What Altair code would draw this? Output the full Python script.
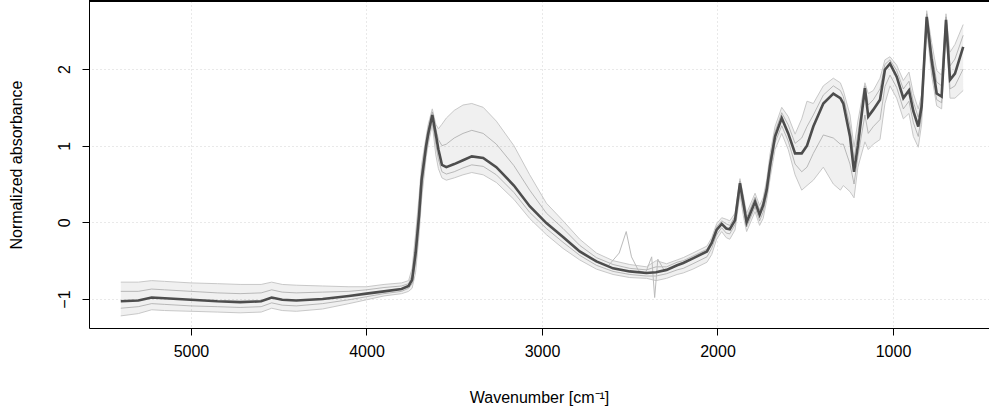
import altair as alt
import pandas as pd

# Wavenumber grid (cm^-1)
wn = [5400, 5300, 5224, 5150, 5000, 4850, 4720, 4600, 4540, 4480,
      4400, 4250, 4100, 4000, 3900, 3800, 3760, 3740, 3720, 3700,
      3686, 3660, 3648, 3625, 3605, 3590, 3570, 3545, 3500, 3450,
      3400, 3335, 3260, 3160, 3070, 2975, 2880, 2785, 2690, 2595,
      2500, 2405, 2350, 2290, 2230, 2195, 2140, 2060, 2033, 2005,
      1976, 1950, 1930, 1900, 1872, 1850, 1834, 1786, 1760, 1740,
      1720, 1700, 1672, 1634, 1597, 1558, 1520, 1490, 1454, 1397,
      1340, 1300, 1283, 1245, 1222, 1200, 1160, 1141, 1112, 1074,
      1046, 1017, 979, 941, 909, 884, 856, 837, 808, 780,
      751, 723, 698, 675, 647, 600]

# Dense central spectrum (dark core)
center = [-1.03, -1.02, -0.98, -0.99, -1.01, -1.03, -1.04, -1.03, -0.98, -1.01,
          -1.02, -1.00, -0.96, -0.93, -0.90, -0.87, -0.83, -0.75, -0.40, 0.10,
          0.55, 1.00, 1.16, 1.40, 1.15, 0.95, 0.75, 0.72, 0.76, 0.81,
          0.86, 0.84, 0.72, 0.48, 0.21, -0.01, -0.19, -0.38, -0.51, -0.60,
          -0.64, -0.66, -0.65, -0.62, -0.56, -0.53, -0.47, -0.38, -0.27, -0.10,
          -0.02, -0.08, -0.09, 0.03, 0.51, 0.22, 0.00, 0.27, 0.10, 0.22,
          0.42, 0.75, 1.12, 1.36, 1.16, 0.90, 0.90, 1.00, 1.25, 1.55,
          1.68, 1.62, 1.55, 1.12, 0.66, 1.00, 1.75, 1.38, 1.47, 1.60,
          1.99, 2.07, 1.90, 1.62, 1.72, 1.45, 1.25, 1.51, 2.68, 2.12,
          1.68, 1.64, 2.64, 1.86, 1.94, 2.29]

# Spectra between the core and the highest ones
mid_hi = [-0.90, -0.90, -0.87, -0.88, -0.90, -0.92, -0.93, -0.92, -0.88, -0.91,
          -0.92, -0.91, -0.90, -0.88, -0.85, -0.83, -0.80, -0.68, -0.28, 0.22,
          0.65, 1.06, 1.22, 1.44, 1.22, 1.08, 1.00, 1.02, 1.10, 1.16,
          1.20, 1.16, 1.02, 0.74, 0.42, 0.12, -0.08, -0.30, -0.46, -0.55,
          -0.60, -0.62, -0.58, -0.58, -0.52, -0.50, -0.44, -0.35, -0.24, -0.06,
          0.02, -0.02, -0.04, 0.08, 0.54, 0.27, 0.06, 0.33, 0.16, 0.27,
          0.48, 0.82, 1.18, 1.43, 1.27, 1.03, 1.10, 1.25, 1.40, 1.66,
          1.78, 1.72, 1.64, 1.26, 0.82, 1.16, 1.78, 1.53, 1.60, 1.74,
          2.06, 2.12, 1.98, 1.74, 1.84, 1.57, 1.37, 1.58, 2.72, 2.24,
          1.83, 1.78, 2.68, 2.04, 2.13, 2.44]

# Spectra between the core and the lowest ones
mid_lo = [-1.12, -1.10, -1.06, -1.07, -1.09, -1.10, -1.11, -1.10, -1.05, -1.08,
          -1.09, -1.06, -1.01, -0.97, -0.93, -0.90, -0.86, -0.80, -0.52, -0.02,
          0.43, 0.92, 1.09, 1.34, 1.02, 0.82, 0.66, 0.63, 0.66, 0.71,
          0.75, 0.73, 0.62, 0.39, 0.13, -0.08, -0.26, -0.43, -0.56, -0.64,
          -0.68, -0.70, -0.70, -0.67, -0.62, -0.60, -0.54, -0.45, -0.34, -0.16,
          -0.07, -0.14, -0.15, -0.03, 0.44, 0.14, -0.06, 0.20, 0.02, 0.13,
          0.35, 0.66, 1.04, 1.26, 1.06, 0.76, 0.66, 0.72, 0.90, 1.14,
          1.10, 1.02, 1.02, 0.76, 0.50, 0.86, 1.40, 1.16, 1.25, 1.34,
          1.77, 1.92, 1.76, 1.48, 1.58, 1.30, 1.12, 1.40, 2.60, 2.02,
          1.60, 1.56, 2.58, 1.74, 1.78, 2.00]

# Highest spectra (upper envelope)
upper = [-0.78, -0.78, -0.76, -0.77, -0.79, -0.80, -0.81, -0.81, -0.78, -0.81,
         -0.82, -0.83, -0.84, -0.84, -0.81, -0.79, -0.76, -0.60, -0.15, 0.35,
         0.75, 1.12, 1.28, 1.48, 1.28, 1.22, 1.28, 1.36, 1.46, 1.53,
         1.55, 1.50, 1.32, 1.00, 0.62, 0.25, 0.02, -0.22, -0.40, -0.50,
         -0.55, -0.58, -0.50, -0.54, -0.49, -0.46, -0.40, -0.31, -0.20, -0.02,
         0.06, 0.04, 0.02, 0.12, 0.57, 0.32, 0.12, 0.38, 0.22, 0.32,
         0.55, 0.90, 1.25, 1.50, 1.38, 1.15, 1.35, 1.58, 1.55, 1.78,
         1.88, 1.82, 1.72, 1.40, 0.98, 1.32, 1.82, 1.68, 1.72, 1.88,
         2.12, 2.16, 2.05, 1.85, 1.96, 1.68, 1.48, 1.66, 2.76, 2.35,
         1.98, 1.92, 2.72, 2.22, 2.32, 2.58]

# Lowest spectra (lower envelope)
lower = [-1.22, -1.19, -1.14, -1.15, -1.16, -1.17, -1.18, -1.17, -1.12, -1.15,
         -1.16, -1.13, -1.06, -1.01, -0.96, -0.93, -0.90, -0.86, -0.65, -0.15,
         0.30, 0.85, 1.02, 1.28, 0.88, 0.70, 0.58, 0.55, 0.58, 0.62,
         0.65, 0.62, 0.52, 0.30, 0.05, -0.16, -0.34, -0.49, -0.61, -0.68,
         -0.72, -0.73, -0.76, -0.73, -0.68, -0.66, -0.61, -0.52, -0.42, -0.22,
         -0.12, -0.20, -0.22, -0.10, 0.36, 0.05, -0.12, 0.14, -0.04, 0.05,
         0.28, 0.58, 0.95, 1.16, 0.95, 0.62, 0.42, 0.48, 0.55, 0.72,
         0.50, 0.42, 0.48, 0.40, 0.32, 0.72, 1.05, 0.95, 1.02, 1.08,
         1.55, 1.78, 1.62, 1.35, 1.42, 1.12, 0.98, 1.28, 2.52, 1.92,
         1.52, 1.48, 2.52, 1.62, 1.62, 1.72]

# A few spiky spectra near 2500 and 2360 cm^-1
spike_wn = [2620, 2560, 2520, 2490, 2450, 2410, 2375, 2358, 2340, 2300]
spike_val = [-0.56, -0.40, -0.12, -0.45, -0.63, -0.66, -0.45, -0.98, -0.48, -0.64]

assert len(wn) == len(center) == len(upper) == len(lower) == len(mid_hi) == len(mid_lo)

df = pd.DataFrame({"wn": wn, "center": center, "upper": upper, "lower": lower,
                   "mid_hi": mid_hi, "mid_lo": mid_lo})
spikes = pd.DataFrame({"wn": spike_wn, "val": spike_val})

FONT = "Liberation Sans"

xscale = alt.Scale(domain=[453, 5581], reverse=True, nice=False, zero=False)
yscale = alt.Scale(domain=[-1.378, 2.887], nice=False, zero=False)

xaxis = alt.Axis(values=[1000, 2000, 3000, 4000, 5000], format="d",
                 title="Wavenumber [cm⁻¹]", tickSize=7, labelPadding=8,
                 titlePadding=30)
yaxis = alt.Axis(values=[-1, 0, 1, 2], format="d", title="Normalized absorbance",
                 tickSize=7, labelAngle=270, labelAlign="center",
                 labelBaseline="bottom", labelPadding=10, titlePadding=32)

base = alt.Chart(df)

band = base.mark_area(color="#000000", opacity=0.06).encode(
    x=alt.X("wn:Q", scale=xscale, axis=xaxis),
    y=alt.Y("lower:Q", scale=yscale, axis=yaxis),
    y2="upper:Q",
)


def spectrum(field, color, width, opacity=1.0):
    return base.mark_line(color=color, strokeWidth=width, opacity=opacity).encode(
        x=alt.X("wn:Q", scale=xscale), y=alt.Y(f"{field}:Q", scale=yscale))


up_line = spectrum("upper", "#c8c8c8", 1)
lo_line = spectrum("lower", "#c8c8c8", 1)
mh_line = spectrum("mid_hi", "#a0a0a0", 1, 0.7)
ml_line = spectrum("mid_lo", "#a0a0a0", 1, 0.7)
spike_line = alt.Chart(spikes).mark_line(color="#bbbbbb", strokeWidth=1).encode(
    x=alt.X("wn:Q", scale=xscale), y=alt.Y("val:Q", scale=yscale))
core = spectrum("center", "#4d4d4d", 2.6)

top_frame = alt.Chart(df).mark_rule(color="black", strokeWidth=1).encode(
    x=alt.value(0), x2=alt.value(900), y=alt.value(0))

chart = alt.layer(band, up_line, lo_line, mh_line, ml_line, spike_line, core,
                  top_frame).properties(
    width=900, height=327,
    padding={"left": 89, "top": 1, "right": 0, "bottom": 84},
    autosize=alt.AutoSizeParams(type="none"),
).configure_view(stroke=None).configure_axis(
    domainColor="black", tickColor="black", domainWidth=1, tickWidth=1,
    labelFont=FONT, titleFont=FONT, labelFontSize=16, titleFontSize=16,
    labelColor="black", titleColor="black", titleFontWeight="normal",
    grid=True, gridColor="#d3d3d3", gridDash=[1, 3], gridWidth=1,
)

chart.save("out.html", embed_options={"renderer": "svg", "actions": False})
